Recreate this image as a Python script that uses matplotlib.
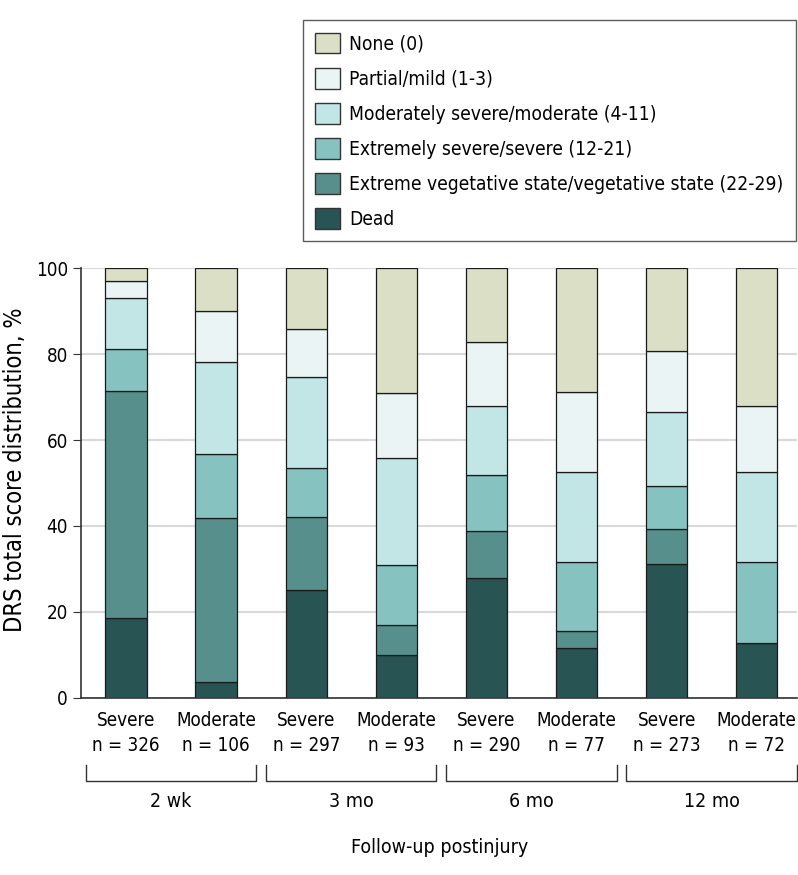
import matplotlib
matplotlib.use("Agg")
import matplotlib.pyplot as plt
import matplotlib.transforms as mtransforms
from matplotlib.patches import Patch
import numpy as np

plt.rcParams['font.family'] = ['DejaVu Sans']
plt.rcParams['font.stretch'] = 'condensed'

severity = ["Severe", "Moderate", "Severe", "Moderate", "Severe", "Moderate", "Severe", "Moderate"]
n_values = [326, 106, 297, 93, 290, 77, 273, 72]
timepoints = ["2 wk", "3 mo", "6 mo", "12 mo"]

# percentages per DRS category, bottom to top
dead = [18.5, 3.8, 25.2, 9.9, 27.9, 11.7, 31.2, 12.7]
vegetative = [52.9, 38.0, 17.0, 7.0, 10.9, 3.9, 8.0, 0.0]
extremely_severe = [9.8, 14.9, 11.2, 14.0, 13.1, 16.0, 10.1, 18.9]
moderately_severe = [11.9, 21.5, 21.2, 24.8, 16.0, 20.9, 17.3, 20.9]
partial_mild = [3.9, 11.8, 11.1, 15.2, 15.0, 18.7, 14.0, 15.5]
none = [3.0, 10.0, 14.3, 29.1, 17.1, 28.8, 19.4, 32.0]

series = [dead, vegetative, extremely_severe, moderately_severe, partial_mild, none]
labels = ["Dead",
          "Extreme vegetative state/vegetative state (22-29)",
          "Extremely severe/severe (12-21)",
          "Moderately severe/moderate (4-11)",
          "Partial/mild (1-3)",
          "None (0)"]
colors = ["#285453", "#568f8b", "#86c2c0", "#c1e6e5", "#eaf4f5", "#dbdfc6"]

fig = plt.figure(figsize=(7.98, 8.75), dpi=100)
ax = fig.add_axes([0.101, 0.2023, 0.898, 0.4914])

x = np.arange(len(severity))
bottom = np.zeros(len(severity))
for vals, col in zip(series, colors):
    vals = np.array(vals)
    ax.bar(x, vals, bottom=bottom, width=0.46, color=col, edgecolor="#1a1a1a",
           linewidth=0.9, zorder=3)
    bottom += vals

ax.set_xlim(-0.505, 7.45)
ax.set_ylim(0, 100)
ax.set_yticks([0, 20, 40, 60, 80, 100])
ax.tick_params(axis='y', labelsize=13.5, length=6, color="#333333", pad=3)
ax.tick_params(axis='x', length=0, labelbottom=False)
ax.grid(axis='y', color="#d9d9d9", linewidth=1.5, zorder=0)
for s in ['top', 'right']:
    ax.spines[s].set_visible(False)
for s in ['left', 'bottom']:
    ax.spines[s].set_color("#333333")
    ax.spines[s].set_linewidth(1.2)
ax.set_ylabel("DRS total score distribution, %", fontsize=17, labelpad=4)
ax.yaxis.set_label_coords(-0.075, 0.53)

trans = mtransforms.blended_transform_factory(ax.transData, ax.transAxes)
for i in range(len(severity)):
    ax.text(x[i], -0.053, severity[i], transform=trans, ha='center', va='center', fontsize=13.5)
    ax.text(x[i], -0.11, "n = %d" % n_values[i], transform=trans, ha='center', va='center', fontsize=13.5)

for g, tp in enumerate(timepoints):
    c = 2 * g + 0.5
    x0, x1 = c - 0.945, c + 0.945
    ax.plot([x0, x0, x1, x1], [-0.155, -0.193, -0.193, -0.155], transform=trans,
            color="#333333", linewidth=1.0, clip_on=False)
    ax.text(c, -0.241, tp, transform=trans, ha='center', va='center', fontsize=14)

ax.text(3.475, -0.348, "Follow-up postinjury", transform=trans, ha='center', va='center', fontsize=14)

handles = [Patch(facecolor=c, edgecolor="#333333", linewidth=1.0) for c in colors]
leg = fig.legend(handles[::-1], labels[::-1], loc='upper left', bbox_to_anchor=(0.3797, 0.977),
                 fontsize=13.8, handlelength=1.3, handleheight=1.3, labelspacing=0.74,
                 handletextpad=0.45, borderpad=0.65, borderaxespad=0, fancybox=False, frameon=True)
leg.get_frame().set_edgecolor("#333333")
leg.get_frame().set_linewidth(1.0)

plt.savefig("out.png", dpi=100)
